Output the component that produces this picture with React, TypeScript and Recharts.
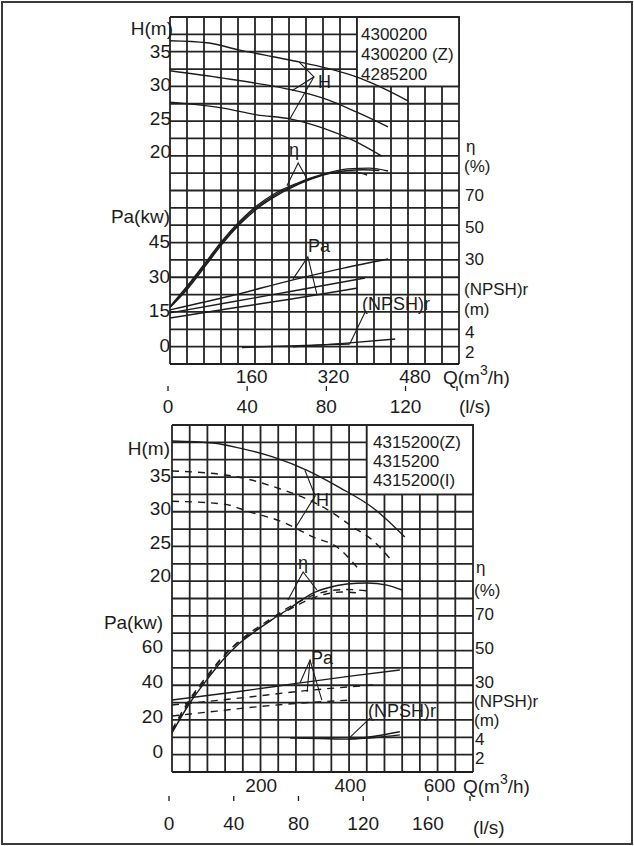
import React from 'react';
import { LineChart, Line, XAxis, YAxis, CartesianGrid, ReferenceArea } from 'recharts';

const FONT = '"Liberation Sans", Arial, Helvetica, sans-serif';
const INK = '#1c1c1c';
const GRID_INK = '#242424';

// ---------- upper sheet: 4300200 / 4300200 (Z) / 4285200  (Q in m3/h)
const upperModels = ['4300200', '4300200 (Z)', '4285200'];
const upperQTicks = [160, 320, 480];
const upperLsTicks = [0, 40, 80, 120];
const upperHTicks = [20, 25, 30, 35];
const upperPaTicks = [0, 15, 30, 45];
const upperEtaTicks = [30, 50, 70];
const upperNpshTicks = [2, 4];

const upperHeadA = [[0, 36.6], [72, 36.3], [137, 35.2], [202, 34.2], [255, 33.4], [307, 32.5], [372, 31.0], [417, 29.5], [466, 27.6]];
const upperHeadB = [[0, 32.1], [104, 31.0], [202, 29.8], [241, 29.2], [300, 28.0], [366, 25.9], [427, 23.7]];
const upperHeadC = [[0, 27.4], [104, 26.5], [170, 25.5], [235, 24.9], [300, 23.5], [358, 21.7], [415, 19.3]];
const upperEffA = [[0, 0], [33, 12], [72, 28], [102, 40.5], [137, 53], [170, 62.5], [202, 69.5], [249, 77], [294, 82.5], [347, 86.5], [390, 87], [427, 85.2]];
const upperEffB = [[0, 0], [33, 11], [72, 27], [102, 39.5], [137, 52], [170, 61.5], [202, 68.5], [249, 76.5], [294, 82], [330, 84.5], [360, 84.5], [386, 82.7]];
const upperEffC = [[0, 0.5], [33, 13], [72, 29], [102, 41.5], [137, 54], [170, 63.5], [202, 70.5], [249, 77.5], [294, 82.5], [347, 85.5], [380, 86], [410, 85.5]];
const upperPowerA = [[0, 15.4], [120, 21.5], [241, 28.4], [340, 33.5], [427, 37.4]];
const upperPowerB = [[0, 14.1], [120, 18.8], [241, 23.6], [382, 29.2]];
const upperPowerC = [[0, 11.9], [120, 16.1], [241, 20.2], [368, 24.9]];
const upperNpshA = [[141, 2.4], [250, 2.6], [352, 2.78]];
const upperNpshB = [[241, 2.47], [340, 2.85], [441, 3.33]];
// leader strokes from the on-chart labels to the curves
const upperHeadLeaderA = [[253, 33.4], [282, 31.2], [239, 29.1]];
const upperHeadLeaderB = [[282, 31.2], [235, 24.9]];
const upperEffLeader = [[229, 76], [251, 90.2], [268, 80.5]];
const upperPowerLeader = [[241, 28.8], [270, 38.3], [288, 21.9]];
const upperNpshLeader = [[382, 6.3], [352, 2.78]];

// ---------- lower sheet: 4315200(Z) / 4315200 / 4315200(I)
const lowerModels = ['4315200(Z)', '4315200', '4315200(I)'];
const lowerQTicks = [200, 400, 600];
const lowerLsTicks = [0, 40, 80, 120, 160];
const lowerHTicks = [20, 25, 30, 35];
const lowerPaTicks = [0, 20, 40, 60];
const lowerEtaTicks = [30, 50, 70];
const lowerNpshTicks = [2, 4];

const lowerHeadZ = [[0, 40.05], [92, 39.75], [152, 39.0], [226, 37.7], [303, 35.7], [377, 33.1], [451, 30.1], [522, 25.8]];
const lowerHeadStd = [[0, 35.6], [140, 34.8], [240, 33], [300, 31.5], [350, 29.8], [405, 27.3], [450, 25.3], [495, 22.1]];
const lowerHeadI = [[0, 31.1], [114, 30.7], [175, 29.5], [249, 28], [316, 25.8], [370, 24.3], [415, 21.3]];
const lowerEffZ = [[0, 0.6], [40, 18.2], [78, 31.8], [114, 43.5], [152, 53.5], [191, 61.2], [226, 67.6], [265, 74.1], [316, 82.9], [348, 85.9], [392, 88.2], [437, 88.8], [482, 87.6], [516, 84.7]];
const lowerEffStd = [[0, 1.5], [40, 19.5], [78, 33], [114, 45], [152, 55], [191, 62.5], [226, 68.5], [265, 75], [316, 81.5], [348, 84], [392, 85], [444, 84]];
const lowerEffI = [[0, 2.5], [40, 20.5], [78, 34], [114, 45.5], [152, 54.5], [191, 61.5], [226, 67.5], [265, 73.5], [316, 80], [348, 82.5], [380, 83.5], [415, 83]];
const lowerPowerZ = [[0, 29.1], [150, 34], [287, 38.9], [400, 42.8], [511, 46.3]];
const lowerPowerStd = [[0, 26.3], [150, 30.2], [300, 34.5], [451, 37.7]];
const lowerPowerI = [[0, 20], [100, 22.8], [200, 25.5], [300, 27.6], [399, 29.1]];
const lowerNpshZ = [[265, 3.9], [330, 3.85], [395, 3.8], [450, 4.05], [511, 4.5]];
const lowerNpshStd = [[395, 3.8], [455, 3.95], [511, 4.2]];
const lowerHeadLeader = [[298, 35.7], [321, 31.9], [276, 27.1]];
const lowerEffLeader = [[260, 78.8], [294, 95.3], [325, 84.7]];
const lowerPowerLeaderA = [[287, 38.9], [309.5, 52], [336, 29.1]];
const lowerPowerLeaderB = [[309.5, 52], [303, 33.7]];
const lowerNpshLeader = [[444, 5.8], [395, 3.8]];

type AxisKey = 'h' | 'pa' | 'eta' | 'npsh';
type Curve = { data: number[][]; axis: AxisKey; dashed?: boolean; leader?: boolean };

type Sheet = {
  top: number;
  height: number;
  plotHeight: number;
  margin: { top: number; left: number; right: number; bottom: number };
  qAxisHeight: number;
  lsAxisHeight: number;
  qMax: number;
  lsMax: number;
  hDomain: number[];
  paDomain: number[];
  etaDomain: number[];
  npshDomain: number[];
  qTicks: number[];
  lsTicks: number[];
  hTicks: number[];
  paTicks: number[];
  etaTicks: number[];
  npshTicks: number[];
  npshNudge: number[];
  hDx: number;
  paDx: number;
  rightDx: number;
  lsDx: number;
  lsLabelDy: number;
  qLabelDy: number;
  curves: Curve[];
};

const upperSheet: Sheet = {
  top: 0,
  height: 440,
  plotHeight: 347,
  margin: { top: 17, left: 168, right: 173, bottom: 17 },
  qAxisHeight: 27,
  lsAxisHeight: 32,
  qMax: 566,
  lsMax: 146,
  hDomain: [-11.87, 40.17],
  paDomain: [-8.0, 142.1],
  etaDomain: [-35.4, 181.4],
  npshDomain: [0.56, 39.1],
  qTicks: upperQTicks,
  lsTicks: upperLsTicks,
  hTicks: upperHTicks,
  paTicks: upperPaTicks,
  etaTicks: upperEtaTicks,
  npshTicks: upperNpshTicks,
  npshNudge: [1, -1],
  hDx: 1,
  paDx: 0,
  rightDx: 6,
  lsDx: -2,
  lsLabelDy: 15,
  qLabelDy: 12,
  curves: [
    { data: upperHeadA, axis: 'h' },
    { data: upperHeadB, axis: 'h' },
    { data: upperHeadC, axis: 'h' },
    { data: upperEffA, axis: 'eta' },
    { data: upperEffB, axis: 'eta' },
    { data: upperEffC, axis: 'eta' },
    { data: upperPowerA, axis: 'pa' },
    { data: upperPowerB, axis: 'pa' },
    { data: upperPowerC, axis: 'pa' },
    { data: upperNpshA, axis: 'npsh' },
    { data: upperNpshB, axis: 'npsh' },
    { data: upperHeadLeaderA, axis: 'h', leader: true },
    { data: upperHeadLeaderB, axis: 'h', leader: true },
    { data: upperEffLeader, axis: 'eta', leader: true },
    { data: upperPowerLeader, axis: 'pa', leader: true },
    { data: upperNpshLeader, axis: 'npsh', leader: true },
  ],
};

const lowerSheet: Sheet = {
  top: 410,
  height: 436,
  plotHeight: 347,
  margin: { top: 15, left: 170, right: 159, bottom: 10 },
  qAxisHeight: 29,
  lsAxisHeight: 35,
  qMax: 675,
  lsMax: 186,
  hDomain: [-9.12, 42.43],
  paDomain: [-12, 186.3],
  etaDomain: [-22.4, 181.8],
  npshDomain: [0.67, 33.7],
  qTicks: lowerQTicks,
  lsTicks: lowerLsTicks,
  hTicks: lowerHTicks,
  paTicks: lowerPaTicks,
  etaTicks: lowerEtaTicks,
  npshTicks: lowerNpshTicks,
  npshNudge: [0, 2],
  hDx: -1,
  paDx: -9,
  rightDx: 2,
  lsDx: -3,
  lsLabelDy: 22,
  qLabelDy: 13,
  curves: [
    { data: lowerHeadZ, axis: 'h' },
    { data: lowerHeadStd, axis: 'h', dashed: true },
    { data: lowerHeadI, axis: 'h', dashed: true },
    { data: lowerEffZ, axis: 'eta' },
    { data: lowerEffStd, axis: 'eta', dashed: true },
    { data: lowerEffI, axis: 'eta', dashed: true },
    { data: lowerPowerZ, axis: 'pa' },
    { data: lowerPowerStd, axis: 'pa', dashed: true },
    { data: lowerPowerI, axis: 'pa', dashed: true },
    { data: lowerNpshZ, axis: 'npsh' },
    { data: lowerNpshStd, axis: 'npsh' },
    { data: lowerHeadLeader, axis: 'h', leader: true },
    { data: lowerEffLeader, axis: 'eta', leader: true },
    { data: lowerPowerLeaderA, axis: 'pa', leader: true },
    { data: lowerPowerLeaderB, axis: 'pa', leader: true },
    { data: lowerNpshLeader, axis: 'npsh', leader: true },
  ],
};

const RIGHT_SIZE = 17;

function label(x: number, y: number, value: any, anchor: string, size = 19) {
  return (
    <text x={x} y={y} textAnchor={anchor} dominantBaseline="central" fontFamily={FONT} fontSize={size} fill={INK}>
      {value}
    </text>
  );
}

// 17 columns x 20 rows of squared paper
const vGrid = ({ offset }: any) => Array.from({ length: 18 }, (_, i) => offset.left + (i * offset.width) / 17);
const hGrid = ({ offset }: any) => Array.from({ length: 21 }, (_, i) => offset.top + (i * offset.height) / 20);

function SheetChart({ s }: { s: Sheet }) {
  const plotLeft = s.margin.left + 2;
  const plotRight = 634 - s.margin.right - 2;
  const plotBottom = s.margin.top + s.plotHeight;
  const lsLineY = plotBottom + s.qAxisHeight;

  const leftTick = (dx: number) => (p: any) => label(plotLeft + dx, p.y, p.payload.value, 'end');
  const etaTick = (p: any) => label(plotRight + s.rightDx, p.y, p.payload.value, 'start', RIGHT_SIZE);
  const npshTick = (p: any) => {
    const nudge = s.npshNudge[s.npshTicks.indexOf(p.payload.value)] || 0;
    return label(plotRight + s.rightDx, p.y + nudge, p.payload.value, 'start', RIGHT_SIZE);
  };
  const qTick = (p: any) => label(p.x, plotBottom + s.qLabelDy, p.payload.value, 'middle');
  const lsTick = (p: any) => {
    const x = p.x + s.lsDx;
    return (
      <g>
        <line x1={x} x2={x} y1={lsLineY} y2={lsLineY - 5} stroke={INK} strokeWidth={1.3} />
        {p.payload.value !== s.lsMax && label(x, lsLineY + s.lsLabelDy, p.payload.value, 'middle')}
      </g>
    );
  };

  // legend panel occupies the top-right 6 x 4 squares
  const hSpan = s.hDomain[1] - s.hDomain[0];

  return (
    <div style={{ position: 'absolute', left: 0, top: s.top }}>
      <LineChart width={634} height={s.height} margin={s.margin}>
        <CartesianGrid
          xAxisId="q"
          yAxisId="h"
          verticalCoordinatesGenerator={vGrid}
          horizontalCoordinatesGenerator={hGrid}
          stroke={GRID_INK}
          strokeWidth={1.8}
        />
        <XAxis
          xAxisId="q"
          dataKey="q"
          type="number"
          domain={[0, s.qMax]}
          ticks={s.qTicks}
          interval={0}
          allowDataOverflow
          axisLine={false}
          tickLine={false}
          tickSize={0}
          tickMargin={0}
          height={s.qAxisHeight}
          tick={qTick}
        />
        <XAxis
          xAxisId="ls"
          dataKey="q"
          type="number"
          domain={[0, s.lsMax]}
          ticks={[...s.lsTicks, s.lsMax]}
          interval={0}
          allowDataOverflow
          axisLine={{ stroke: INK, strokeWidth: 1.3 }}
          tickLine={false}
          tickSize={0}
          tickMargin={0}
          height={s.lsAxisHeight}
          tick={lsTick}
        />
        <YAxis yAxisId="h" type="number" domain={s.hDomain} ticks={s.hTicks} interval={0} allowDataOverflow width={1} axisLine={false} tickLine={false} tickSize={0} tickMargin={0} tick={leftTick(s.hDx)} />
        <YAxis yAxisId="pa" type="number" domain={s.paDomain} ticks={s.paTicks} interval={0} allowDataOverflow width={1} axisLine={false} tickLine={false} tickSize={0} tickMargin={0} tick={leftTick(s.paDx)} />
        <YAxis yAxisId="eta" orientation="right" type="number" domain={s.etaDomain} ticks={s.etaTicks} interval={0} allowDataOverflow width={1} axisLine={false} tickLine={false} tickSize={0} tickMargin={0} tick={etaTick} />
        <YAxis yAxisId="npsh" orientation="right" type="number" domain={s.npshDomain} ticks={s.npshTicks} interval={0} allowDataOverflow width={1} axisLine={false} tickLine={false} tickSize={0} tickMargin={0} tick={npshTick} />
        <ReferenceArea
          xAxisId="q"
          yAxisId="h"
          x1={(s.qMax * 11) / 17}
          x2={s.qMax}
          y1={s.hDomain[1] - (hSpan * 4) / 20}
          y2={s.hDomain[1]}
          fill="#ffffff"
          fillOpacity={1}
          stroke={GRID_INK}
          strokeWidth={1.8}
        />
        {s.curves.map((c, i) => (
          <Line
            key={i}
            xAxisId="q"
            yAxisId={c.axis}
            data={c.data.map(([q, v]) => ({ q, v }))}
            dataKey="v"
            type={c.leader ? 'linear' : 'monotone'}
            stroke={INK}
            strokeWidth={c.leader ? 1.1 : 1.4}
            strokeDasharray={c.dashed ? '7 6' : undefined}
            dot={false}
            activeDot={false}
            isAnimationActive={false}
          />
        ))}
      </LineChart>
    </div>
  );
}

type Note = { t: string; x: number; y: number; a?: string; size?: number };

const upperNotes: Note[] = [
  { t: 'H(m)', x: 173, y: 28, a: 'end' },
  { t: 'Pa(kw)', x: 170, y: 216, a: 'end' },
  { t: 'η', x: 466, y: 146, size: RIGHT_SIZE },
  { t: '(%)', x: 464, y: 166, size: RIGHT_SIZE },
  { t: '(NPSH)r', x: 464, y: 289, size: RIGHT_SIZE },
  { t: '(m)', x: 464, y: 309, size: RIGHT_SIZE },
  { t: '(l/s)', x: 459, y: 406 },
  { t: 'H', x: 318, y: 82, size: 18 },
  { t: 'η', x: 294, y: 150, a: 'middle', size: 18 },
  { t: 'Pa', x: 308, y: 246, size: 18 },
  { t: '(NPSH)r', x: 362, y: 304, size: 18 },
];

const lowerNotes: Note[] = [
  { t: 'H(m)', x: 170, y: 448, a: 'end' },
  { t: 'Pa(kw)', x: 163, y: 622, a: 'end' },
  { t: 'η', x: 476, y: 567, size: RIGHT_SIZE },
  { t: '(%)', x: 474, y: 590, size: RIGHT_SIZE },
  { t: '(NPSH)r', x: 474, y: 701, size: RIGHT_SIZE },
  { t: '(m)', x: 474, y: 720, size: RIGHT_SIZE },
  { t: '(l/s)', x: 473, y: 827 },
  { t: 'H', x: 316, y: 500, size: 18 },
  { t: 'η', x: 303, y: 563, a: 'middle', size: 18 },
  { t: 'Pa', x: 311, y: 658, size: 18 },
  { t: '(NPSH)r', x: 368, y: 711, size: 18 },
];

function QTitle({ x, y }: { x: number; y: number }) {
  return (
    <text x={x} y={y} dominantBaseline="central" fontFamily={FONT} fontSize={19} fill={INK}>
      Q(m
      <tspan dy={-7} fontSize={14}>3</tspan>
      <tspan dy={7}>/h)</tspan>
    </text>
  );
}

export default function App() {
  return (
    <div style={{ position: 'absolute', left: 0, top: 0, width: 634, height: 846, background: '#ffffff', overflow: 'hidden' }}>
      <SheetChart s={upperSheet} />
      <SheetChart s={lowerSheet} />
      <svg width={634} height={846} style={{ position: 'absolute', left: 0, top: 0, pointerEvents: 'none' }}>
        <rect x={2} y={2} width={630} height={842} fill="none" stroke="#3a3a3a" strokeWidth={2} />
        {[...upperNotes, ...lowerNotes].map((n, i) => (
          <React.Fragment key={i}>{label(n.x, n.y, n.t, n.a || 'start', n.size || 19)}</React.Fragment>
        ))}
        <QTitle x={443} y={377} />
        <QTitle x={463} y={786} />
        {upperModels.map((m, i) => (
          <React.Fragment key={m}>{label(361, 34 + i * 20, m, 'start', 17)}</React.Fragment>
        ))}
        {lowerModels.map((m, i) => (
          <React.Fragment key={m}>{label(373, 442 + i * 19, m, 'start', 17)}</React.Fragment>
        ))}
      </svg>
    </div>
  );
}
